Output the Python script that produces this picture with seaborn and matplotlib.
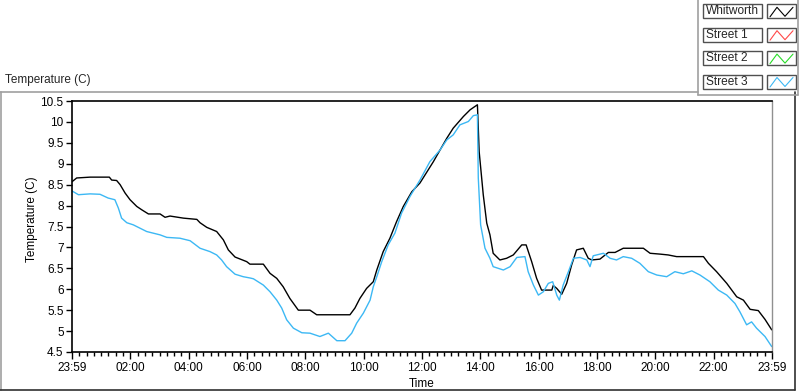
import matplotlib
matplotlib.use("Agg")
import matplotlib.pyplot as plt
from matplotlib.lines import Line2D
from matplotlib.patches import Rectangle
from matplotlib.ticker import FuncFormatter, MultipleLocator
import seaborn as sns
import pandas as pd

# Series shown in the legend (Street 1 / Street 2 have no data on the chart)
series_names = ["Whitworth", "Street 1", "Street 2", "Street 3"]
series_colors = ["#000000", "#ff4848", "#28dc28", "#3cb8f4"]

# Hours after 23:59 of the previous day
whitworth_hours = [0.00, 0.16, 0.62, 1.28, 1.36, 1.53, 1.65, 1.82, 1.99, 2.22, 2.39, 2.62,
                   3.02, 3.19, 3.36, 3.82, 4.28, 4.39, 4.62, 4.96, 5.19, 5.36, 5.59, 5.99,
                   6.10, 6.56, 6.79, 7.02, 7.24, 7.47, 7.76, 8.16, 8.39, 9.53, 9.70, 9.87,
                   10.10, 10.33, 10.45, 10.67, 10.90, 11.13, 11.36, 11.65, 11.93, 12.39,
                   12.85, 13.07, 13.42, 13.65, 13.90, 13.96, 14.10, 14.22, 14.33, 14.44,
                   14.67, 14.90, 15.13, 15.42, 15.57, 15.76, 15.93, 16.10, 16.45, 16.50,
                   16.62, 16.79, 16.96, 17.13, 17.30, 17.53, 17.70, 17.82, 18.10, 18.39,
                   18.62, 18.90, 19.59, 19.82, 20.16, 20.44, 20.73, 21.65, 21.82, 22.10,
                   22.45, 22.79, 23.02, 23.25, 23.53, 23.76, 23.99]
whitworth_temp = [8.57, 8.66, 8.68, 8.68, 8.61, 8.60, 8.50, 8.30, 8.14, 7.98, 7.90, 7.80,
                  7.80, 7.72, 7.75, 7.70, 7.67, 7.59, 7.48, 7.38, 7.18, 6.94, 6.77, 6.66,
                  6.60, 6.60, 6.38, 6.26, 6.06, 5.78, 5.50, 5.50, 5.39, 5.39, 5.55, 5.78,
                  6.02, 6.18, 6.46, 6.90, 7.22, 7.62, 7.98, 8.33, 8.54, 9.05,
                  9.61, 9.85, 10.13, 10.29, 10.41, 9.29, 8.26, 7.58, 7.30, 6.86,
                  6.70, 6.74, 6.82, 7.06, 7.06, 6.66, 6.26, 5.98, 5.98, 6.09,
                  6.02, 5.88, 6.14, 6.58, 6.94, 6.98, 6.74, 6.70, 6.72, 6.88,
                  6.88, 6.98, 6.98, 6.86, 6.84, 6.82, 6.78, 6.78, 6.62, 6.42,
                  6.14, 5.82, 5.74, 5.52, 5.49, 5.28, 5.03]

street3_hours = [0.00, 0.22, 0.62, 0.96, 1.24, 1.47, 1.59, 1.70, 1.88, 2.10, 2.33, 2.56,
                 3.02, 3.25, 3.70, 4.05, 4.39, 4.73, 4.96, 5.13, 5.30, 5.59, 5.87, 6.10,
                 6.22, 6.56, 6.79, 7.02, 7.19, 7.36, 7.59, 7.88, 8.16, 8.50, 8.79, 9.08,
                 9.36, 9.59, 9.76, 9.99, 10.22, 10.33, 10.45, 10.62, 10.84, 11.07, 11.30,
                 11.59, 11.93, 12.27, 12.62, 12.85, 13.07, 13.30, 13.59, 13.76, 13.90,
                 13.93, 14.01, 14.16, 14.33, 14.44, 14.79, 15.02, 15.25, 15.53, 15.64,
                 15.82, 15.99, 16.16, 16.33, 16.48, 16.62, 16.71, 16.84, 17.02, 17.19,
                 17.42, 17.65, 17.76, 17.87, 18.22, 18.45, 18.67, 18.90, 19.19, 19.47,
                 19.76, 20.05, 20.39, 20.67, 20.96, 21.25, 21.53, 21.87, 22.16, 22.45,
                 22.73, 22.90, 23.13, 23.30, 23.47, 23.76, 23.99]
street3_temp = [8.35, 8.26, 8.28, 8.27, 8.18, 8.14, 7.94, 7.70, 7.59, 7.54, 7.46, 7.38,
                7.30, 7.24, 7.22, 7.16, 6.98, 6.90, 6.82, 6.70, 6.54, 6.36, 6.30, 6.27,
                6.25, 6.10, 5.94, 5.74, 5.55, 5.27, 5.07, 4.96, 4.95, 4.87, 4.95, 4.77,
                4.77, 4.95, 5.19, 5.43, 5.74, 6.06, 6.30, 6.66, 7.06, 7.34, 7.82,
                8.22, 8.61, 9.05, 9.33, 9.57, 9.69, 9.93, 10.01, 10.15, 10.17,
                8.66, 7.54, 6.98, 6.74, 6.54, 6.46, 6.54, 6.76, 6.78, 6.42,
                6.10, 5.86, 5.94, 6.14, 6.18, 5.86, 5.74, 6.10, 6.42, 6.74,
                6.76, 6.70, 6.54, 6.80, 6.86, 6.74, 6.70, 6.78, 6.74, 6.62,
                6.42, 6.34, 6.30, 6.42, 6.37, 6.44, 6.34, 6.18, 5.98, 5.86,
                5.66, 5.46, 5.15, 5.22, 5.07, 4.87, 4.63]

tick_hours = [0, 2, 4, 6, 8, 10, 12, 14, 16, 18, 20, 22, 24]
tick_labels = ["23:59", "02:00", "04:00", "06:00", "08:00", "10:00", "12:00",
               "14:00", "16:00", "18:00", "20:00", "22:00", "23:59"]

W, H = 800, 392


def fx(px):
    return px / W


def fy(py):
    return 1 - py / H


sns.set_style("white")
plt.rcParams["font.family"] = ["Liberation Sans", "DejaVu Sans"]

fig = plt.figure(figsize=(8, 3.92), dpi=100)
ax = fig.add_axes([fx(72), fy(352), 700 / W, 251 / H])

df_w = pd.DataFrame({"hours": whitworth_hours, "temp": whitworth_temp})
df_s3 = pd.DataFrame({"hours": street3_hours, "temp": street3_temp})
sns.lineplot(data=df_w, x="hours", y="temp", ax=ax, color=series_colors[0], linewidth=1.0)
sns.lineplot(data=df_s3, x="hours", y="temp", ax=ax, color=series_colors[3], linewidth=1.0)

ax.set_xlim(0, 24)
ax.set_ylim(4.5, 10.5)
ax.set_xticks(tick_hours)
ax.set_xticklabels(tick_labels)
ax.xaxis.set_minor_locator(MultipleLocator(0.25))
ax.yaxis.set_major_locator(MultipleLocator(0.5))
ax.yaxis.set_major_formatter(FuncFormatter(lambda v, p: f"{v:g}"))
ax.tick_params(axis="both", which="major", labelsize=8.5, colors="#000000",
               direction="out", width=1, pad=2)
ax.tick_params(axis="x", which="major", length=5)
ax.tick_params(axis="x", which="minor", length=3, width=1, direction="out", color="#000000")
ax.tick_params(axis="y", which="major", length=4)
ax.tick_params(bottom=True, left=True, which="both")
ax.tick_params(axis="y", which="minor", left=False)

for side in ["left", "bottom", "top"]:
    ax.spines[side].set_color("#000000")
    ax.spines[side].set_linewidth(1.2)
ax.spines["right"].set_color("#909090")
ax.spines["right"].set_linewidth(1.0)

ax.set_xlabel("Time", fontsize=8.5, color="#000000")
ax.set_ylabel("Temperature (C)", fontsize=8.5, color="#000000")
ax.xaxis.set_label_coords(0.5, -0.105)
ax.yaxis.set_label_coords(-0.048, 0.53)

# Panel caption and frame
fig.text(fx(5), fy(80), "Temperature (C)", fontsize=8.5, va="center", ha="left")
frame = [((0, 698), (92, 92), "#a0a0a0"), ((1, 1), (92, 390), "#a0a0a0"),
         ((0, 795), (390, 390), "#303030"), ((795, 795), (92, 390), "#303030"),
         ((698, 698), (0, 95), "#a0a0a0"), ((698, 798), (95, 95), "#a0a0a0"),
         ((798, 798), (0, 95), "#a0a0a0")]
for xs, ys, c in frame:
    fig.add_artist(Line2D([fx(x) for x in xs], [fy(y) for y in ys], color=c, linewidth=1.2))

# Legend (plot legend style)
for i, (name, col) in enumerate(zip(series_names, series_colors)):
    top = 4.3 + i * 23.4
    fig.add_artist(Rectangle((fx(703), fy(top + 14)), 59 / W, 14 / H, facecolor="white",
                             edgecolor="#505050", linewidth=1.0))
    fig.text(fx(706), fy(top + 7.2), name, fontsize=8.6, va="center", ha="left")
    fig.add_artist(Rectangle((fx(767), fy(top + 14)), 29 / W, 14 / H, facecolor="white",
                             edgecolor="#505050", linewidth=1.0))
    fig.add_artist(Line2D([fx(770), fx(777), fx(785), fx(793)],
                          [fy(top + 12.5), fy(top + 3), fy(top + 12), fy(top + 3)],
                          color=col, linewidth=0.8))

fig.savefig("out.png", dpi=100)
